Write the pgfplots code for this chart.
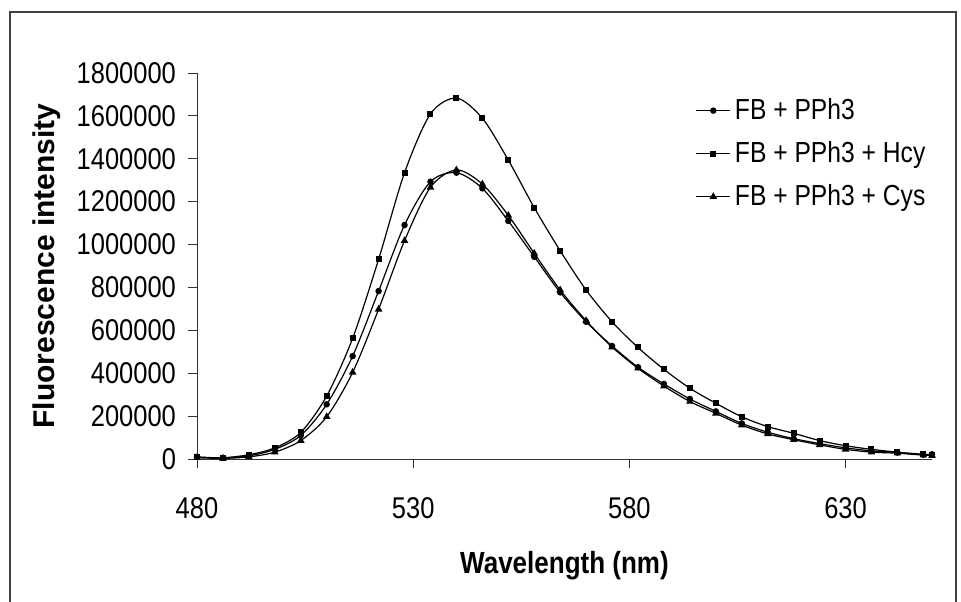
\documentclass[border=0pt]{standalone}
\usepackage{pgfplots}
\pgfplotsset{compat=1.18}
\usepackage{fontspec}
\setmainfont{Liberation Sans}[FakeStretch=0.85]
\newfontfamily\ylabfont{Liberation Sans}
\pgfplotstableread{
x FB Hcy Cys
480 10000 8000 6000
486 5000 6000 3000
492 15000 20000 10000
498 45000 52000 32000
504 110000 124000 86000
510 255000 294000 197000
516 480000 563000 404000
522 783000 931000 698000
528 1091000 1335000 1018000
534 1293000 1609000 1267000
540 1335000 1683000 1348000
546 1262000 1589000 1282000
552 1110000 1394000 1136000
558 943000 1172000 959000
564 777000 971000 788000
570 640000 788000 645000
576 527000 640000 522000
582 428000 520000 423000
588 350000 418000 340000
594 280000 330000 268000
600 222000 260000 213000
606 166000 197000 158000
612 125000 151000 117000
618 95000 120000 90000
624 72000 86000 66000
630 52000 62000 45000
636 38000 45000 32000
642 30000 32000 27000
648 20000 22000 18000
650 22000 20000 17000
}\datatable
\begin{document}
\begin{tikzpicture}
\path[use as bounding box] (0,0) rectangle (480.5pt,300.5pt);
\draw[black!75, line width=0.6pt] (5pt,-20pt) rectangle (478pt,294.5pt);
\begin{axis}[
  at={(98.5pt,71pt)}, anchor=south west,
  scale only axis, width=367.5pt, height=193pt,
  xmin=480, xmax=650, ymin=0, ymax=1800000,
  axis lines*=left,
  axis line style={black!80, line width=0.5pt},
  xtick={480,530,580,630},
  ytick={0,200000,...,1800000},
  tick style={black!80, line width=0.5pt},
  tick align=outside,
  major tick length=4.5pt,
  scaled y ticks=false,
  /pgf/number format/fixed,
  /pgf/number format/1000 sep={},
  /pgf/number format/assume math mode=true,
  tick label style={font=\fontsize{15}{17}\selectfont},
  xticklabel style={yshift=-11pt},
  yticklabel style={xshift=-2.5pt},
  xlabel={\textbf{Wavelength (nm)}},
  ylabel={\ylabfont\bfseries Fluorescence intensity},
  xlabel style={font=\fontsize{15.3}{17}\selectfont, at={(axis description cs:0.5,-0.277)}, anchor=center},
  ylabel style={font=\fontsize{15}{17}\selectfont, at={(axis description cs:-0.2048,0.5)}, anchor=center},
  legend style={draw=none, fill=none, at={(axis description cs:0.678,0.945)}, anchor=north west,
    font=\fontsize{14.5}{16}\selectfont, row sep=5.5pt, inner sep=0pt,
    /tikz/every even column/.append style={column sep=4.5pt}},
  legend cell align=left,
  legend image code/.code={\draw[mark repeat=2,mark phase=2] plot coordinates {(0pt,0pt) (8.5pt,0pt) (17pt,0pt)};},
]
\addplot[black, line width=0.6pt, smooth, mark=*, mark size=1.3pt, mark options={solid, fill=black}] table[x=x,y=FB] {\datatable};
\addlegendentry{FB + PPh3}
\addplot[black, line width=0.6pt, smooth, mark=square*, mark size=1.2pt, mark options={solid, fill=black}] table[x=x,y=Hcy] {\datatable};
\addlegendentry{FB + PPh3 + Hcy}
\addplot[black, line width=0.6pt, smooth, mark=triangle*, mark size=1.6pt, mark options={solid, fill=black}] table[x=x,y=Cys] {\datatable};
\addlegendentry{FB + PPh3 + Cys}
\end{axis}
\end{tikzpicture}
\end{document}
